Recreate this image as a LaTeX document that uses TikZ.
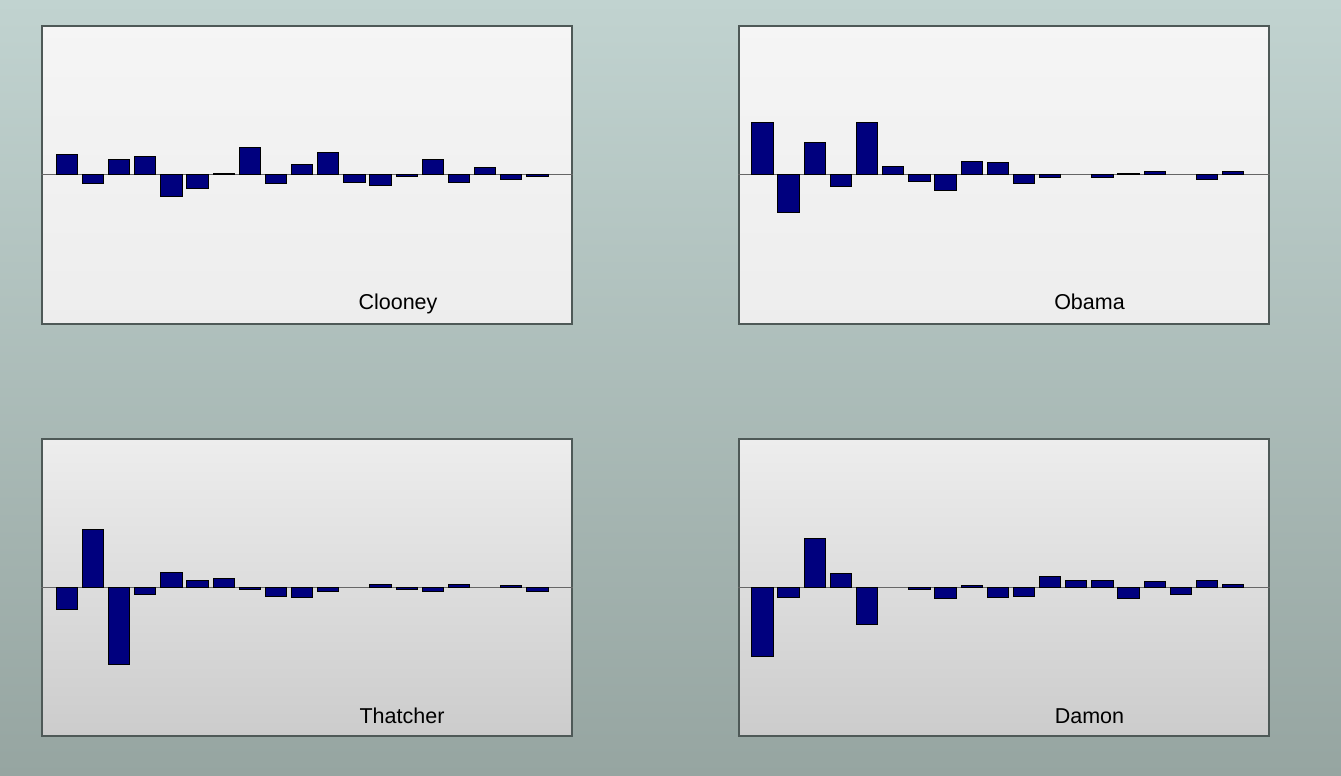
\documentclass[tikz,border=0pt]{standalone}
\usepackage{fontspec}
\setsansfont{Liberation Sans}
\usetikzlibrary{positioning}
\definecolor{slidetop}{HTML}{C1D3D0}
\definecolor{slidebot}{HTML}{96A5A1}
\definecolor{framegray}{HTML}{4E5957}
\definecolor{barblue}{HTML}{00007E}
\begin{document}
\begin{tikzpicture}[x=1pt,y=-1pt,
	panel/.style = {draw=framegray, line width=2pt, inner sep=0pt, anchor=north west,
		minimum width=530pt, minimum height=297.5pt},
	upper/.style = {panel, top color=white!96!black, bottom color=white!93!black},
	lower/.style = {panel, top color=white!93!black, bottom color=white!80!black},
	name label/.style = {anchor=base, font=\sffamily\fontsize{21.5}{26}\selectfont},
	bar/.style = {fill=barblue, draw=black, line width=0.8pt},
	axis/.style = {draw=black!60, line width=1pt}]
	
	\fill[top color=slidetop, bottom color=slidebot] (0,0) rectangle (1341,776);
	\useasboundingbox (0,0) rectangle (1341,776);
	
	\node[upper] (clooney) at (41,25) {};
	\node[upper] (obama) at (738,25) {};
	\node[lower] (thatcher) at (41,437.7) {};
	\node[lower] (damon) at (738,437.7) {};
	
	\draw[axis] (clooney.west) -- (clooney.east);
	\draw[axis] (obama.west) -- (obama.east);
	\draw[axis] (thatcher.west) -- (thatcher.east);
	\draw[axis] (damon.west) -- (damon.east);
	
	% bar heights, left to right
	\begin{scope}[shift={(clooney.west)}]
	\foreach \h [count=\i from 0] in {20,-9,15,18,-22,-14,1.5,27,-9,10,22,-8,-11,-2,15,-8,7,-5,-2}
		{\draw[bar] (15+\i*26.15,0) rectangle ++(21.3,-\h);}
	\end{scope}
	\begin{scope}[shift={(obama.west)}]
	\foreach \h [count=\i from 0] in {52,-38,32,-12,52,8,-7,-16,13,12,-9,-3,0,-3,1.5,3,0,-5,3}
		{\ifdim\h pt=0pt\else\draw[bar] (13.7+\i*26.15,0) rectangle ++(21.3,-\h);\fi}
	\end{scope}
	\begin{scope}[shift={(thatcher.west)}]
	\foreach \h [count=\i from 0] in {-22,58,-77,-7,15,7.3,8.7,-2.3,-8.7,-10,-3.7,0,3.3,-2.3,-3.7,3.3,0,1.7,-3.7}
		{\ifdim\h pt=0pt\else\draw[bar] (15+\i*26.15,0) rectangle ++(21.3,-\h);\fi}
	\end{scope}
	\begin{scope}[shift={(damon.west)}]
	\foreach \h [count=\i from 0] in {-69,-10,49,13.7,-37,0,-2,-11.3,1.7,-10,-9,11.3,7.3,7.3,-11.3,6,-7.3,7.3,3.3}
		{\ifdim\h pt=0pt\else\draw[bar] (13.7+\i*26.15,0) rectangle ++(21.3,-\h);\fi}
	\end{scope}
	
	\node[name label] (clooneyname) at ([xshift=357pt,yshift=15pt]clooney.south west) {Clooney};
	\node[name label] (obamaname) at ([xshift=351.5pt,yshift=15pt]obama.south west) {Obama};
	\node[name label] (thatchername) at ([xshift=361pt,yshift=14pt]thatcher.south west) {Thatcher};
	\node[name label] (damonname) at ([xshift=351.5pt,yshift=14pt]damon.south west) {Damon};
	
\end{tikzpicture}
\end{document}
